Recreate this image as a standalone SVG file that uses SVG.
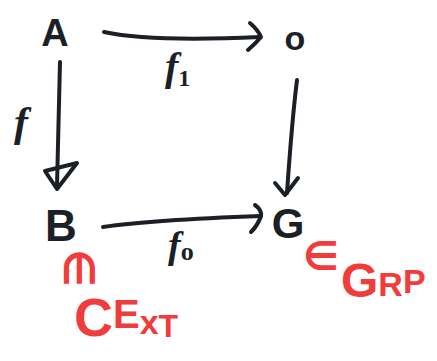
<svg xmlns="http://www.w3.org/2000/svg" width="437" height="361" viewBox="0 0 437 361">
<style>
.k{fill:#1b1f26;font-family:"Liberation Sans",Arial,sans-serif;font-weight:bold}
.m{fill:#1b1f26;font-family:"Liberation Serif","Times New Roman",serif;font-style:italic;font-weight:bold}
.r{fill:#f03c3c;font-family:"Liberation Sans",Arial,sans-serif;font-weight:bold}
.s{fill:#f03c3c;font-family:"DejaVu Sans",sans-serif;font-weight:bold}
.ln{fill:none;stroke:#1b1f26;stroke-width:4;stroke-linecap:round;stroke-linejoin:round}
</style>
<rect width="437" height="361" fill="#ffffff"/>
<g id="connectors">
  <path class="ln" d="M104 32 Q150 42 260 37"/>
  <path class="ln" d="M250 23 Q258 30 261 37 Q256 43 248 50"/>
  <path class="ln" d="M60 62 L57 186"/>
  <path class="ln" d="M45 171 L77 163 L57 189 Z"/>
  <path class="ln" d="M297 80 Q292 120 287 193"/>
  <path class="ln" d="M275 183 L285 195 L298 178"/>
  <path class="ln" d="M103 227 Q150 220 261 216"/>
  <path class="ln" d="M255 205 Q262 210 261 216 Q258 225 251 232"/>
</g>
<g id="node-A"><text class="k" x="55" y="46" font-size="38" text-anchor="middle">A</text></g>
<g id="node-0"><text class="k" x="295" y="50" font-size="34" text-anchor="middle">o</text></g>
<g id="node-B"><text class="k" x="61" y="241" font-size="44" text-anchor="middle">B</text></g>
<g id="node-G"><text class="k" x="288" y="238" font-size="42" text-anchor="middle">G</text></g>
<g id="label-f1"><text class="m" x="165" y="80" font-size="40">f<tspan font-size="24" font-style="normal" dy="6">1</tspan></text></g>
<g id="label-f"><text class="m" x="14" y="136" font-size="42">f</text></g>
<g id="label-f0"><text class="m" x="168" y="258" font-size="38">f<tspan font-size="26" font-style="normal" dy="2">o</tspan></text></g>
<g id="label-in-cext">
  <text class="s" x="0" y="0" font-size="42" text-anchor="middle" transform="translate(76 268) rotate(90) translate(0 12)">∈</text>
  <text class="r" x="74" y="336" font-size="54">C<tspan font-size="40" dy="-8">E</tspan><tspan font-size="34" dy="6">x</tspan><tspan font-size="32" dy="3">T</tspan></text>
</g>
<g id="label-in-grp">
  <text class="s" x="321" y="270" font-size="40" text-anchor="middle">∈</text>
  <text class="r" x="341" y="297" font-size="48">G<tspan font-size="34" dy="-1">R</tspan><tspan font-size="34" dy="-3">P</tspan></text>
</g>
</svg>
